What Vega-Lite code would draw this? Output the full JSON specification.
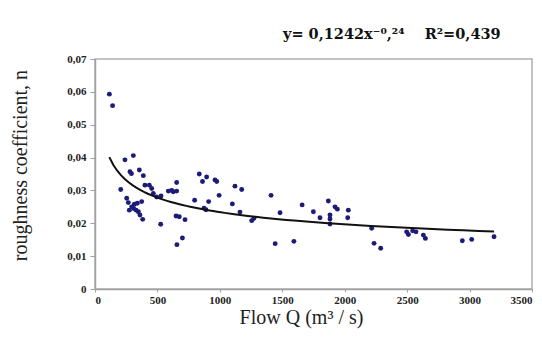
{
  "$schema": "https://vega.github.io/schema/vega-lite/v6.json",
  "autosize": {"type": "none"},
  "padding": {"left": 95, "top": 59, "right": 10, "bottom": 49},
  "width": 437,
  "height": 230,
  "background": "white",
  "title": {
    "text": "y= 0,1242x⁻⁰,²⁴\u00a0\u00a0\u00a0\u00a0R²=0,439",
    "anchor": "start",
    "frame": "group",
    "dx": 188,
    "offset": 11,
    "font": "DejaVu Serif",
    "fontSize": 14.5,
    "fontWeight": "bold",
    "color": "#111111"
  },
  "config": {
    "view": {"stroke": "#b0b0b0", "strokeWidth": 1.5},
    "axis": {
      "grid": false,
      "domainColor": "#a0a0a0",
      "domainWidth": 1.5,
      "tickColor": "#a0a0a0",
      "labelFont": "Liberation Serif",
      "labelFontWeight": "bold",
      "labelColor": "#222222",
      "labelOverlap": false,
      "titleFont": "Liberation Serif",
      "titleFontWeight": "normal",
      "titleColor": "#222222"
    }
  },
  "data": {
    "values": [
      {"Q": 115, "n": 0.0593}, {"Q": 141, "n": 0.0558}, {"Q": 206, "n": 0.0303}, {"Q": 240, "n": 0.0393},
      {"Q": 307, "n": 0.0406}, {"Q": 280, "n": 0.0357}, {"Q": 292, "n": 0.0351}, {"Q": 355, "n": 0.0362},
      {"Q": 387, "n": 0.0345}, {"Q": 400, "n": 0.0316}, {"Q": 435, "n": 0.0316}, {"Q": 454, "n": 0.0306},
      {"Q": 467, "n": 0.0291}, {"Q": 254, "n": 0.0276}, {"Q": 267, "n": 0.0263}, {"Q": 275, "n": 0.0240},
      {"Q": 294, "n": 0.0250}, {"Q": 315, "n": 0.0258}, {"Q": 339, "n": 0.0261}, {"Q": 374, "n": 0.0266},
      {"Q": 347, "n": 0.0235}, {"Q": 360, "n": 0.0225}, {"Q": 382, "n": 0.0212}, {"Q": 310, "n": 0.0245},
      {"Q": 329, "n": 0.0240}, {"Q": 494, "n": 0.0280}, {"Q": 529, "n": 0.0283}, {"Q": 526, "n": 0.0197},
      {"Q": 587, "n": 0.0298}, {"Q": 614, "n": 0.0300}, {"Q": 627, "n": 0.0296}, {"Q": 654, "n": 0.0298},
      {"Q": 654, "n": 0.0324}, {"Q": 649, "n": 0.0222}, {"Q": 675, "n": 0.0220}, {"Q": 721, "n": 0.0211},
      {"Q": 700, "n": 0.0155}, {"Q": 656, "n": 0.0135}, {"Q": 835, "n": 0.0350}, {"Q": 894, "n": 0.0341},
      {"Q": 861, "n": 0.0327}, {"Q": 961, "n": 0.0332}, {"Q": 975, "n": 0.0327}, {"Q": 994, "n": 0.0285},
      {"Q": 798, "n": 0.0270}, {"Q": 910, "n": 0.0266}, {"Q": 873, "n": 0.0246}, {"Q": 889, "n": 0.0241},
      {"Q": 1121, "n": 0.0313}, {"Q": 1175, "n": 0.0303}, {"Q": 1100, "n": 0.0259}, {"Q": 1161, "n": 0.0234},
      {"Q": 1255, "n": 0.0208}, {"Q": 1273, "n": 0.0215}, {"Q": 1410, "n": 0.0285}, {"Q": 1482, "n": 0.0232},
      {"Q": 1443, "n": 0.0138}, {"Q": 1593, "n": 0.0145}, {"Q": 1659, "n": 0.0256}, {"Q": 1749, "n": 0.0235},
      {"Q": 1802, "n": 0.0217}, {"Q": 1869, "n": 0.0268}, {"Q": 1882, "n": 0.0225}, {"Q": 1882, "n": 0.0213},
      {"Q": 1882, "n": 0.0198}, {"Q": 1922, "n": 0.0250}, {"Q": 1941, "n": 0.0243}, {"Q": 2029, "n": 0.0240},
      {"Q": 2024, "n": 0.0217}, {"Q": 2216, "n": 0.0185}, {"Q": 2235, "n": 0.0139}, {"Q": 2288, "n": 0.0124},
      {"Q": 2496, "n": 0.0174}, {"Q": 2510, "n": 0.0166}, {"Q": 2544, "n": 0.0177}, {"Q": 2571, "n": 0.0174},
      {"Q": 2630, "n": 0.0164}, {"Q": 2646, "n": 0.0154}, {"Q": 2942, "n": 0.0147}, {"Q": 3017, "n": 0.0151},
      {"Q": 3196, "n": 0.0159}
    ]
  },
  "encoding": {
    "x": {
      "field": "Q", "type": "quantitative",
      "scale": {"domain": [0, 3500], "nice": false},
      "axis": {
        "values": [0, 500, 1000, 1500, 2000, 2500, 3000, 3500],
        "format": "d",
        "tickSize": 3,
        "labelFontSize": 11,
        "labelPadding": 2,
        "title": "Flow Q (m³ / s)",
        "titleFontSize": 20,
        "titlePadding": 2,
        "titleX": 206
      }
    },
    "y": {
      "field": "n", "type": "quantitative",
      "scale": {"domain": [0, 0.07], "nice": false},
      "axis": {
        "values": [0, 0.01, 0.02, 0.03, 0.04, 0.05, 0.06, 0.07],
        "labelExpr": "replace(format(datum.value, '.2~f'), '.', ',')",
        "tickSize": 5,
        "labelFontSize": 11,
        "labelPadding": 4,
        "title": "roughness coefficient, n",
        "titleFontSize": 20,
        "titlePadding": 36,
        "titleY": 106
      }
    }
  },
  "layer": [
    {
      "mark": {"type": "point", "filled": true, "shape": "circle", "size": 24, "color": "#1c1c78", "opacity": 1}
    },
    {
      "transform": [
        {"regression": "n", "on": "Q", "method": "pow", "extent": [115, 3196]}
      ],
      "mark": {"type": "line", "color": "#111111", "strokeWidth": 2}
    }
  ]
}
